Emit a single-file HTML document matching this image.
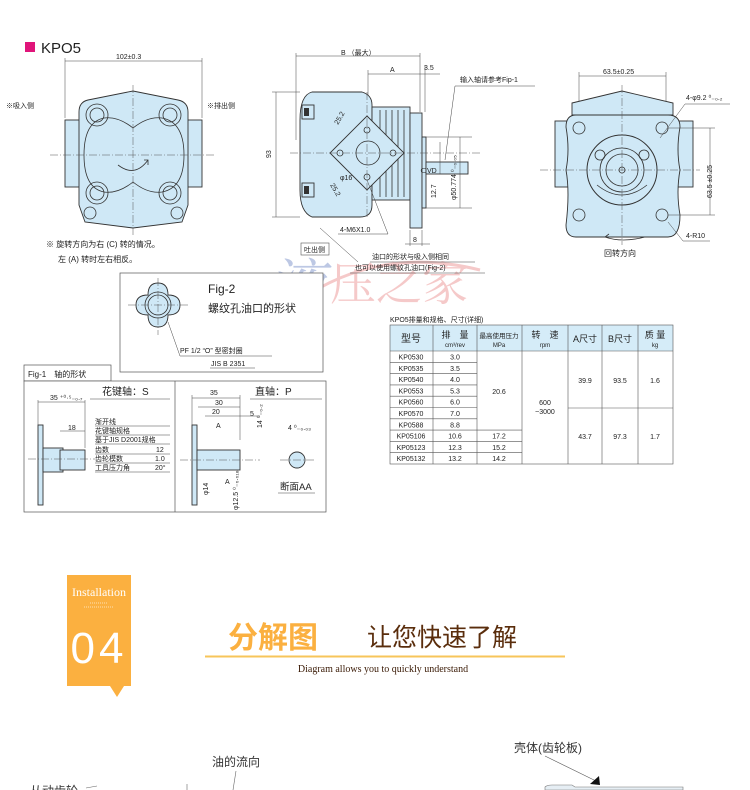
<!DOCTYPE html>
<html><head><meta charset="utf-8">
<style>
html,body{margin:0;padding:0;background:#fff;}
svg{display:block;}
text{font-family:"Liberation Sans","Noto Sans CJK SC",sans-serif;fill:#222;}
.s{stroke:#333;stroke-width:0.8;fill:none;}
.b{stroke:#333;stroke-width:0.9;fill:#cfe8f6;}
.c{stroke:#555;stroke-width:0.5;stroke-dasharray:8 2 1 2;fill:none;}
.d{stroke:#444;stroke-width:0.5;fill:none;}
.t{font-size:8px;}
.tt{font-size:7px;}
</style></head>
<body>
<svg width="750" height="790" viewBox="0 0 750 790" xmlns="http://www.w3.org/2000/svg">
<!-- watermark -->
<g opacity="0.45">
<text x="268" y="305" style="font-family:'Noto Serif CJK SC',serif;font-size:56px;fill:#6f86c4;font-style:italic">液</text>
<text x="330" y="300" style="font-family:'Noto Serif CJK SC',serif;font-size:46px;fill:#e98a8a">压之家</text>
<path d="M300 300 Q380 245 480 270" stroke="#e98a8a" stroke-width="3" fill="none"/>
</g>

<!-- header -->
<rect x="25" y="42" width="10" height="10" fill="#e0157a"/>
<text x="41" y="53" style="font-size:15px;fill:#222">KPO5</text>

<!-- LEFT VIEW -->
<g>
<line class="d" x1="65" y1="58" x2="65" y2="118"/><line class="d" x1="202" y1="58" x2="202" y2="118"/>
<line class="d" x1="65" y1="61" x2="202" y2="61"/>
<text x="116" y="59" class="tt">102±0.3</text>
<text x="6" y="108" class="tt">※吸入侧</text>
<text x="207" y="108" class="tt">※排出侧</text>
<rect class="b" x="65" y="120" width="17" height="67"/>
<rect class="b" x="185" y="120" width="17" height="67"/>
<path class="b" d="M88 100 L133 91 L178 100 Q188 102 188 112 L188 205 L182 222 L133 228 L85 222 L79 205 L79 112 Q79 102 88 100 Z"/>
<path class="s" d="M84 155 Q84 122 104 118 Q118 116 133 128 Q148 116 162 118 Q184 122 184 155 Q184 188 162 192 Q148 194 133 182 Q118 194 104 192 Q84 188 84 155 Z"/>
<g class="s"><circle cx="97" cy="115" r="11"/><circle cx="97" cy="115" r="7"/><circle cx="170" cy="115" r="11"/><circle cx="170" cy="115" r="7"/>
<circle cx="97" cy="193" r="11"/><circle cx="97" cy="193" r="7"/><circle cx="170" cy="193" r="11"/><circle cx="170" cy="193" r="7"/>
<circle cx="90" cy="213" r="6"/><circle cx="177" cy="213" r="6"/></g>
<line class="c" x1="50" y1="155" x2="215" y2="155"/><line class="c" x1="133" y1="85" x2="133" y2="235"/>
<path class="s" d="M118 165 Q135 178 148 160"/><path class="s" d="M144 160 L148 160 L148 165"/>
<text x="46" y="247" class="t">※ 旋转方向为右 (C) 转的情况。</text>
<text x="58" y="262" class="t">左 (A) 转时左右相反。</text>
</g>

<!-- MIDDLE VIEW -->
<g>
<line class="d" x1="296" y1="53" x2="296" y2="140"/><line class="d" x1="420" y1="53" x2="420" y2="112"/>
<line class="d" x1="296" y1="56" x2="420" y2="56"/>
<text x="341" y="55" class="tt">B （最大）</text>
<line class="d" x1="368" y1="70" x2="368" y2="120"/><line class="d" x1="425" y1="65" x2="425" y2="112"/>
<line class="d" x1="368" y1="74" x2="420" y2="74"/><line class="d" x1="420" y1="74" x2="440" y2="74"/>
<text x="390" y="72" class="tt">A</text><text x="424" y="70" class="tt">3.5</text>
<line class="d" x1="272" y1="92" x2="300" y2="92"/><line class="d" x1="272" y1="217" x2="300" y2="217"/>
<line class="d" x1="276" y1="92" x2="276" y2="217"/>
<text x="271" y="158" class="tt" transform="rotate(-90 271 158)">93</text>
<path class="b" d="M312 92 L362 92 Q372 95 372 105 L372 205 Q372 217 360 217 L312 217 Q300 212 300 190 L300 120 Q300 95 312 92 Z"/>
<rect class="b" x="372" y="107" width="38" height="93"/>
<g class="s" stroke-width="0.5"><line x1="380" y1="110" x2="380" y2="197"/><line x1="386" y1="110" x2="386" y2="197"/><line x1="392" y1="110" x2="392" y2="197"/><line x1="398" y1="110" x2="398" y2="197"/><line x1="404" y1="110" x2="404" y2="197"/></g>
<rect class="b" x="410" y="113" width="12" height="115"/>
<rect class="b" x="422" y="137" width="4" height="71"/>
<rect class="b" x="426" y="162" width="42" height="12"/>
<rect class="b" x="302" y="105" width="12" height="14"/><rect class="b" x="302" y="183" width="12" height="14"/>
<rect x="304" y="108" width="5" height="8" fill="#333"/><rect x="304" y="186" width="5" height="8" fill="#333"/>
<path class="b" d="M367 116 L404 153 L367 190 L330 153 Z"/>
<circle class="s" cx="368" cy="153" r="12"/>
<g class="s"><circle cx="340" cy="153" r="3"/><circle cx="393" cy="153" r="3"/><circle cx="367" cy="130" r="3"/><circle cx="367" cy="177" r="3"/></g>
<line class="c" x1="290" y1="153" x2="480" y2="153"/><line class="c" x1="367" y1="92" x2="367" y2="217"/>
<text x="338" y="125" class="tt" transform="rotate(-60 338 125)">25.2</text>
<text x="330" y="185" class="tt" transform="rotate(60 330 185)">25.2</text>
<text x="340" y="180" class="tt">φ16</text>
<text x="420" y="173" class="tt">⊂VD</text>
<line class="d" x1="426" y1="137" x2="472" y2="137"/><line class="d" x1="426" y1="208" x2="472" y2="208"/>
<line class="d" x1="460" y1="137" x2="460" y2="208"/>
<text x="456" y="200" class="tt" transform="rotate(-90 456 200)">φ50.774 ⁰₋₀.₀₅</text>
<line class="d" x1="440" y1="142" x2="440" y2="174"/>
<text x="436" y="198" class="tt" transform="rotate(-90 436 198)">12.7</text>
<text x="460" y="82" class="tt">输入轴请参考Fip-1</text>
<path class="d" d="M455 86 L535 86 M455 86 L445 160"/>
<text x="340" y="232" class="tt">4-M6X1.0</text>
<path class="d" d="M338 234 L388 234 L367 180"/>
<line class="d" x1="410" y1="230" x2="410" y2="246"/><line class="d" x1="422" y1="230" x2="422" y2="246"/>
<line class="d" x1="405" y1="244" x2="430" y2="244"/><text x="413" y="242" class="tt">8</text>
<rect x="301" y="243" width="28" height="12" fill="#fff" stroke="#555" stroke-width="0.6"/>
<text x="304" y="252" class="tt">吐出侧</text>
<text x="372" y="259" class="tt">油口的形状与吸入侧相同</text>
<line class="d" x1="370" y1="262" x2="475" y2="262"/>
<text x="355" y="270" class="tt">也可以使用螺纹孔油口(Fig-2)</text>
<line class="d" x1="350" y1="273" x2="485" y2="273"/>
<line class="d" x1="358" y1="262" x2="320" y2="228"/>
</g>

<!-- RIGHT VIEW -->
<g>
<line class="d" x1="579" y1="72" x2="579" y2="125"/><line class="d" x1="666" y1="72" x2="666" y2="125"/>
<line class="d" x1="579" y1="76" x2="666" y2="76"/><text x="603" y="74" class="tt">63.5±0.25</text>
<rect class="b" x="555" y="121" width="15" height="66"/><rect class="b" x="678" y="121" width="15" height="66"/>
<path class="b" d="M572 103 L622 91 L673 103 L673 115 L572 115 Z"/>
<path class="b" d="M576 115 L668 115 Q680 115 680 127 Q676 150 680 170 Q676 192 680 215 Q680 237 668 237 L576 237 Q566 237 566 225 Q570 192 566 170 Q570 150 566 127 Q566 115 576 115 Z"/>
<g class="s"><circle cx="579" cy="128" r="6"/><circle cx="662" cy="128" r="6"/><circle cx="579" cy="215" r="6"/><circle cx="662" cy="215" r="6"/>
<circle cx="622" cy="170" r="35" stroke-width="1"/><circle cx="622" cy="170" r="22"/><circle cx="622" cy="170" r="16"/><circle cx="622" cy="170" r="3"/>
<circle cx="600" cy="155" r="5"/><circle cx="644" cy="155" r="5"/>
<path d="M597 185 Q622 205 647 185"/></g>
<line class="c" x1="540" y1="170" x2="700" y2="170"/><line class="c" x1="622" y1="85" x2="622" y2="245"/>
<line class="d" x1="668" y1="128" x2="715" y2="128"/><line class="d" x1="668" y1="215" x2="715" y2="215"/>
<line class="d" x1="710" y1="128" x2="710" y2="215"/>
<text x="712" y="198" class="tt" transform="rotate(-90 712 198)">63.5 ±0.25</text>
<text x="686" y="100" class="tt">4-φ9.2 ⁰₋₀.₂</text>
<path class="d" d="M685 104 L730 104 M685 104 L660 138"/>
<text x="686" y="238" class="tt">4-R10</text>
<path class="d" d="M683 241 L710 241 M683 241 L668 222"/>
<path class="s" d="M645 237 Q622 243 605 237 L609 234"/>
<text x="604" y="256" class="t">回转方向</text>
</g>

<!-- FIG-2 -->
<rect x="120" y="273" width="203" height="99" fill="#fff" stroke="#555" stroke-width="0.7"/>
<path class="b" d="M158 283 Q168 283 168 295 Q180 295 180 305 Q180 315 168 315 Q168 327 158 327 Q148 327 148 315 Q136 315 136 305 Q136 295 148 295 Q148 283 158 283 Z"/>
<circle class="s" cx="158" cy="305" r="13"/><circle class="s" cx="158" cy="305" r="10"/>
<line class="c" x1="128" y1="305" x2="190" y2="305"/><line class="c" x1="158" y1="278" x2="158" y2="335"/>
<text x="208" y="293" style="font-size:12px">Fig-2</text>
<text x="208" y="312" style="font-size:11px">螺纹孔油口的形状</text>
<text x="180" y="353" class="tt">PF 1/2 “O” 型密封圈</text>
<line class="d" x1="168" y1="322" x2="180" y2="356"/><line class="d" x1="180" y1="356" x2="272" y2="356"/>
<text x="211" y="366" class="tt">JIS B 2351</text><line class="d" x1="210" y1="368" x2="255" y2="368"/>

<!-- FIG-1 -->
<rect x="24" y="365" width="87" height="16" fill="#fff" stroke="#555" stroke-width="0.7"/>
<text x="28" y="377" class="t">Fig-1　轴的形状</text>
<rect x="24" y="381" width="302" height="131" fill="#fff" stroke="#555" stroke-width="0.7"/>
<line x1="175" y1="381" x2="175" y2="512" stroke="#555" stroke-width="0.7"/>
<text x="102" y="395" style="font-size:10px">花键轴：S</text>
<line class="d" x1="90" y1="399" x2="170" y2="399"/>
<line class="d" x1="38" y1="400" x2="38" y2="425"/><line class="d" x1="85" y1="400" x2="85" y2="448"/>
<line class="d" x1="38" y1="402" x2="85" y2="402"/><text x="50" y="400" class="tt">35 ⁺⁰·⁵₋₀.₇</text>
<line class="d" x1="60" y1="431" x2="85" y2="431"/><text x="68" y="430" class="tt">18</text>
<rect class="b" x="38" y="425" width="5" height="80"/>
<rect class="b" x="43" y="448" width="20" height="24"/><rect class="b" x="60" y="450" width="25" height="20"/>
<line class="c" x1="28" y1="459" x2="95" y2="459"/>
<g class="tt"><text x="95" y="424">渐开线</text><text x="95" y="433">花键轴规格</text><text x="95" y="442">基于JIS D2001规格</text>
<text x="95" y="452">齿数</text><text x="156" y="452">12</text><text x="95" y="461">齿轮模数</text><text x="155" y="461">1.0</text><text x="95" y="470">工具压力角</text><text x="155" y="470">20°</text></g>
<g class="d"><line x1="95" y1="426" x2="170" y2="426"/><line x1="95" y1="435" x2="170" y2="435"/><line x1="95" y1="444" x2="170" y2="444"/><line x1="95" y1="454" x2="170" y2="454"/><line x1="95" y1="463" x2="170" y2="463"/><line x1="95" y1="472" x2="170" y2="472"/></g>
<text x="255" y="395" style="font-size:10px">直轴：P</text><line class="d" x1="250" y1="399" x2="322" y2="399"/>
<line class="d" x1="192" y1="395" x2="192" y2="440"/><line class="d" x1="240" y1="395" x2="240" y2="440"/>
<line class="d" x1="192" y1="398" x2="240" y2="398"/><text x="210" y="395" class="tt">35</text>
<line class="d" x1="198" y1="407" x2="240" y2="407"/><text x="215" y="405" class="tt">30</text>
<line class="d" x1="205" y1="416" x2="232" y2="416"/><text x="212" y="414" class="tt">20</text><text x="250" y="416" class="tt">5</text>
<line class="d" x1="232" y1="416" x2="260" y2="416"/>
<text x="216" y="428" class="tt">A</text><text x="225" y="484" class="tt">A</text>
<rect class="b" x="192" y="425" width="5" height="80"/>
<rect class="b" x="197" y="450" width="43" height="20"/>
<line class="c" x1="180" y1="460" x2="260" y2="460"/>
<text x="262" y="428" class="tt" transform="rotate(-90 262 428)">14 ⁰₋₀.₂</text>
<text x="288" y="430" class="tt">4 ⁰₋₀.₀₃</text>
<circle class="b" cx="297" cy="460" r="8"/><line class="c" x1="280" y1="460" x2="315" y2="460"/>
<text x="280" y="490" style="font-size:9.5px">断面AA</text><line class="d" x1="278" y1="493" x2="315" y2="493"/>
<text x="208" y="495" class="tt" transform="rotate(-90 208 495)">φ14</text>
<text x="238" y="510" class="tt" transform="rotate(-90 238 510)">φ12.5 ⁰₋₀.₀₁₈</text>

<!-- TABLE -->
<text x="390" y="322" style="font-size:7px">KPO5排量和规格、尺寸(详细)</text>
<rect x="390" y="325" width="283" height="26" fill="#d5ecf8"/>
<g stroke="#555" stroke-width="0.6" fill="none">
<rect x="390" y="325" width="283" height="139"/>
<line x1="390" y1="351" x2="673" y2="351"/>
<line x1="433" y1="325" x2="433" y2="464"/><line x1="477" y1="325" x2="477" y2="464"/><line x1="522" y1="325" x2="522" y2="464"/>
<line x1="568" y1="325" x2="568" y2="464"/><line x1="602" y1="325" x2="602" y2="464"/><line x1="638" y1="325" x2="638" y2="464"/>
<line x1="568" y1="408" x2="673" y2="408"/>
<line x1="390" y1="362.3" x2="477" y2="362.3"/><line x1="390" y1="373.6" x2="477" y2="373.6"/><line x1="390" y1="384.9" x2="477" y2="384.9"/>
<line x1="390" y1="396.2" x2="477" y2="396.2"/><line x1="390" y1="407.5" x2="477" y2="407.5"/><line x1="390" y1="418.8" x2="477" y2="418.8"/>
<line x1="390" y1="430.1" x2="522" y2="430.1"/><line x1="390" y1="441.4" x2="522" y2="441.4"/><line x1="390" y1="452.7" x2="522" y2="452.7"/>
</g>
<g style="font-size:8px" text-anchor="middle">
<text x="411" y="342" style="font-size:10px">型号</text>
<text x="455" y="338" style="font-size:9px">排　量</text><text x="455" y="347" style="font-size:6px">cm³/rev</text>
<text x="499" y="338" style="font-size:6.5px">最高使用压力</text><text x="499" y="347" style="font-size:6px">MPa</text>
<text x="545" y="338" style="font-size:9px">转　速</text><text x="545" y="347" style="font-size:6px">rpm</text>
<text x="585" y="342" style="font-size:9px">A尺寸</text><text x="620" y="342" style="font-size:9px">B尺寸</text>
<text x="655" y="338" style="font-size:9px">质 量</text><text x="655" y="347" style="font-size:6px">kg</text>
</g>
<g style="font-size:7px" text-anchor="middle">
<text x="411" y="359.5">KP0530</text><text x="455" y="359.5">3.0</text>
<text x="411" y="370.8">KP0535</text><text x="455" y="370.8">3.5</text>
<text x="411" y="382.1">KP0540</text><text x="455" y="382.1">4.0</text>
<text x="411" y="393.4">KP0553</text><text x="455" y="393.4">5.3</text>
<text x="411" y="404.7">KP0560</text><text x="455" y="404.7">6.0</text>
<text x="411" y="416">KP0570</text><text x="455" y="416">7.0</text>
<text x="411" y="427.3">KP0588</text><text x="455" y="427.3">8.8</text>
<text x="411" y="438.6">KP05106</text><text x="455" y="438.6">10.6</text><text x="499" y="438.6">17.2</text>
<text x="411" y="449.9">KP05123</text><text x="455" y="449.9">12.3</text><text x="499" y="449.9">15.2</text>
<text x="411" y="461.2">KP05132</text><text x="455" y="461.2">13.2</text><text x="499" y="461.2">14.2</text>
<text x="499" y="394">20.6</text>
<text x="545" y="405">600</text><text x="545" y="414">~3000</text>
<text x="585" y="383">39.9</text><text x="620" y="383">93.5</text><text x="655" y="383">1.6</text>
<text x="585" y="439">43.7</text><text x="620" y="439">97.3</text><text x="655" y="439">1.7</text>
</g>

<!-- BOTTOM SECTION -->
<rect x="67" y="575" width="64" height="111" fill="#fbb040"/>
<path d="M110 686 L124 686 L117 697 Z" fill="#fbb040"/>
<text x="99" y="596" text-anchor="middle" style="font-family:'Liberation Serif',serif;font-size:12px;fill:#fff">Installation</text>
<line x1="90" y1="603" x2="108" y2="603" stroke="#fff" stroke-width="1" opacity="0.6" stroke-dasharray="1 1"/>
<line x1="84" y1="607" x2="114" y2="607" stroke="#fff" stroke-width="1" opacity="0.6" stroke-dasharray="1 1"/>
<text x="99" y="663" text-anchor="middle" style="font-size:44px;fill:#fff;letter-spacing:4px">04</text>
<text x="228" y="648" style="font-size:30px;fill:#fbb040;font-weight:bold">分解图</text>
<text x="367" y="646" style="font-size:25px;fill:#5a2d0c">让您快速了解</text>
<line x1="205" y1="656.5" x2="565" y2="656.5" stroke="#f7c55a" stroke-width="2"/>
<text x="383" y="672" text-anchor="middle" style="font-family:'Liberation Serif',serif;font-size:10px;fill:#3a1a05">Diagram allows you to quickly understand</text>
<text x="212" y="766" style="font-size:12px;fill:#333">油的流向</text>
<line x1="236" y1="771" x2="233" y2="790" stroke="#666" stroke-width="0.6"/>
<line x1="187" y1="784" x2="187" y2="790" stroke="#666" stroke-width="0.6"/>
<text x="514" y="752" style="font-size:12px;fill:#333">壳体(齿轮板)</text>
<line x1="545" y1="756" x2="596" y2="781" stroke="#555" stroke-width="0.6"/>
<path d="M590 784 L599 776 L600 785 Z" fill="#111"/>
<path d="M545 790 L545 787 Q547 785 552 785 L572 785 L575 787 L683 787 L683 790 Z" fill="#e6eef4" stroke="#777" stroke-width="0.6"/>
<text x="30" y="795" style="font-size:12px;fill:#333">从动齿轮</text>
<line x1="86" y1="788" x2="97" y2="786" stroke="#666" stroke-width="0.6"/>
</svg>
</body></html>
